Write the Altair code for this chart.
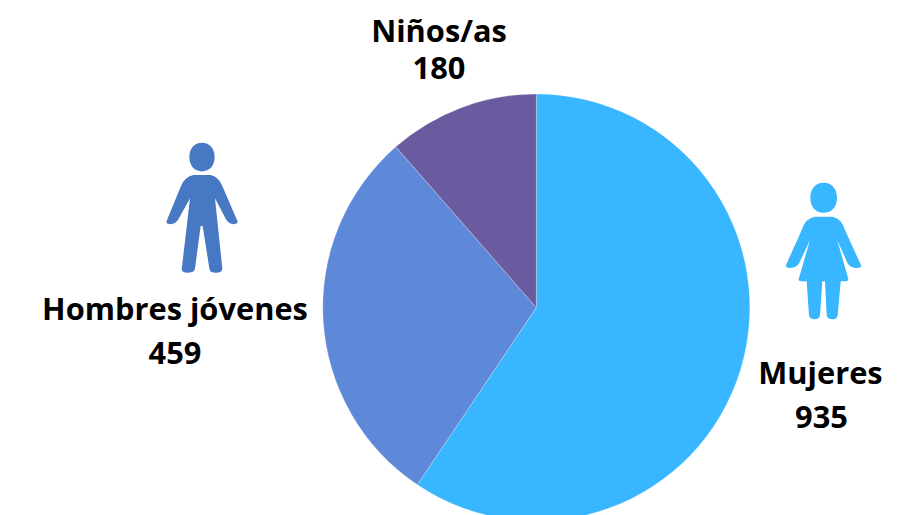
import altair as alt
import pandas as pd

groups = ["Mujeres", "Hombres jóvenes", "Niños/as"]
counts = [935, 459, 180]
slice_colors = ["#38B6FF", "#5E88D8", "#6A5AA0"]
seq = [0, 1, 2]

OX, OY = 8, 8
FONT = "Open Sans"
FS = 30.8

pie_df = pd.DataFrame({"grupo": groups, "n": counts, "seq": seq})

pie = alt.Chart(pie_df).mark_arc(outerRadius=213.5, stroke="#ffffff", strokeWidth=0.25, opacity=1).encode(
    theta=alt.Theta("n:Q", stack=True),
    order=alt.Order("seq:Q"),
    color=alt.Color("grupo:N", scale=alt.Scale(domain=groups, range=slice_colors), legend=None),
    x=alt.value(536.3 - OX),
    y=alt.value(307.5 - OY),
)


def icon_path(head, outline, cx, cy, half):
    def p(x, y):
        return f"{(x - cx) / half:.4f},{(y - cy) / half:.4f}"
    hx, hy, rx, ry = head
    k = 0.6
    d = (
        f"M{p(hx - rx, hy)}"
        f"C{p(hx - rx, hy - ry * k)} {p(hx - rx * k, hy - ry)} {p(hx, hy - ry)}"
        f"C{p(hx + rx * k, hy - ry)} {p(hx + rx, hy - ry * k)} {p(hx + rx, hy)}"
        f"C{p(hx + rx, hy + ry * k)} {p(hx + rx * k, hy + ry)} {p(hx, hy + ry)}"
        f"C{p(hx - rx * k, hy + ry)} {p(hx - rx, hy + ry * k)} {p(hx - rx, hy)}Z"
    )
    d += "M" + p(*outline[0])
    for seg in outline[1:]:
        if len(seg) == 2:
            d += "L" + p(*seg)
        else:
            d += f"Q{p(seg[0], seg[1])} {p(seg[2], seg[3])}"
    return d + "Z"


man_outline = [
    (130, 135), (182, 135), (208, 142, 218, 170), (262, 272), (266, 281, 255, 282),
    (238, 285, 228, 268), (195, 205), (217, 415), (216, 428, 204, 428), (192, 430, 182, 425),
    (179, 422, 178, 415), (158, 288), (152, 288), (135, 415), (133, 428, 118, 428),
    (96, 430, 95, 418), (120, 205), (85, 268), (75, 285, 57, 282), (47, 281, 50, 272),
    (92, 170), (102, 142, 130, 135),
]
woman_outline = [
    (120, 125), (172, 125), (200, 130, 210, 165), (258, 270), (260, 278, 250, 278),
    (228, 280, 218, 265), (187, 195), (220, 312), (220, 318, 212, 318), (197, 318),
    (188, 420), (186, 432, 172, 432), (157, 432, 155, 420), (150, 318), (142, 318),
    (135, 420), (133, 432, 118, 432), (104, 432, 102, 420), (95, 318), (78, 318),
    (69, 318, 71, 312), (105, 195), (72, 265), (62, 280, 40, 278), (31, 278, 33, 270),
    (80, 165), (90, 130, 120, 125),
]

man = icon_path((156, 81, 38, 43), man_outline, 156, 234, 196)
woman = icon_path((146, 68, 40, 45), woman_outline, 145.5, 227.5, 204.5)

one = pd.DataFrame({"a": [0]})


def icon(shape, color, x, y, h):
    return alt.Chart(one).mark_point(
        shape=shape, filled=True, fill=color, stroke=None, opacity=1, size=h * h
    ).encode(x=alt.value(x - OX), y=alt.value(y - OY))


def label(text, x, y):
    return alt.Chart(pd.DataFrame({"t": [text]})).mark_text(
        font=FONT, fontSize=FS, fontWeight="bold", color="#000000", align="center", baseline="alphabetic"
    ).encode(text="t:N", x=alt.value(x - OX), y=alt.value(y - OY))


layers = [
    pie,
    icon(man, "#4678C4", 202, 208, 130.5),
    icon(woman, "#38B6FF", 823.5, 251, 136.5),
    label(groups[2], 439, 42),
    label(str(counts[2]), 439, 79),
    label(groups[1], 175, 320),
    label(str(counts[1]), 175, 364),
    label(groups[0], 820.5, 384),
    label(str(counts[0]), 821.5, 428),
]

chart = alt.layer(*layers).properties(
    width=892, height=507, padding=0, autosize=alt.AutoSizeParams(type="none")
).configure_view(stroke=None)

chart.save("out.html", embed_options={"renderer": "svg", "actions": False})
